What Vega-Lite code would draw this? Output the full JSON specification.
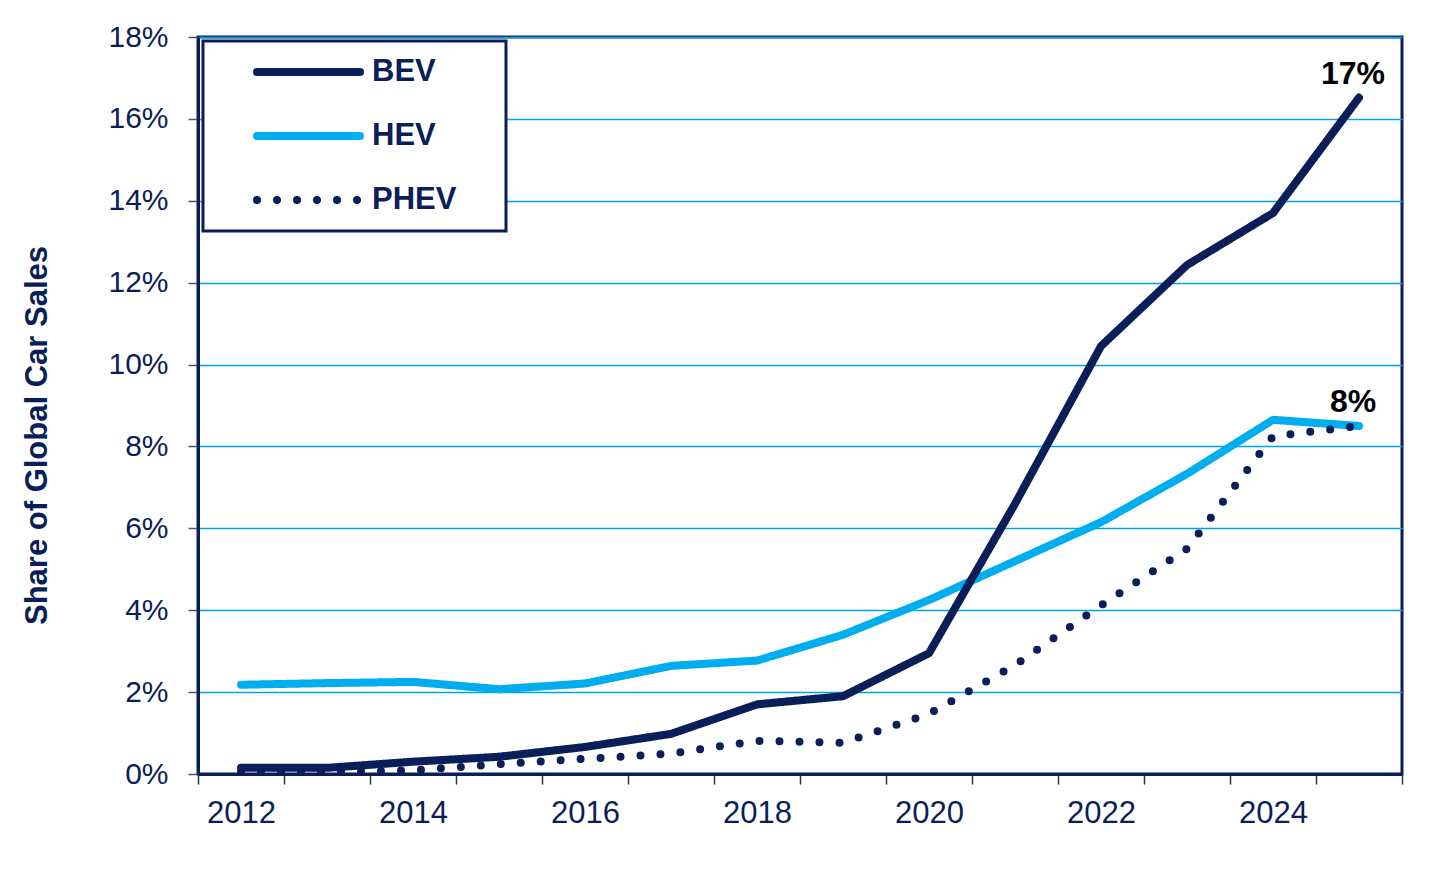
{
  "$schema": "https://vega.github.io/schema/vega-lite/v6.json",
  "description": "Share of global car sales by powertrain",
  "autosize": {"type": "none"},
  "padding": {"left": 198, "top": 37, "right": 54, "bottom": 100},
  "width": 1204,
  "height": 737,
  "datasets": {
    "shares": [
      {"series": "HEV", "year": 2012, "share": 2.18},
      {"series": "HEV", "year": 2013, "share": 2.22},
      {"series": "HEV", "year": 2014, "share": 2.25},
      {"series": "HEV", "year": 2015, "share": 2.07},
      {"series": "HEV", "year": 2016, "share": 2.21},
      {"series": "HEV", "year": 2017, "share": 2.64},
      {"series": "HEV", "year": 2018, "share": 2.77},
      {"series": "HEV", "year": 2019, "share": 3.4},
      {"series": "HEV", "year": 2020, "share": 4.25},
      {"series": "HEV", "year": 2021, "share": 5.2},
      {"series": "HEV", "year": 2022, "share": 6.15},
      {"series": "HEV", "year": 2023, "share": 7.33},
      {"series": "HEV", "year": 2024, "share": 8.65},
      {"series": "HEV", "year": 2025, "share": 8.5},
      {"series": "PHEV", "year": 2012, "share": 0.05},
      {"series": "PHEV", "year": 2013, "share": 0.05},
      {"series": "PHEV", "year": 2014, "share": 0.09},
      {"series": "PHEV", "year": 2015, "share": 0.24},
      {"series": "PHEV", "year": 2016, "share": 0.37},
      {"series": "PHEV", "year": 2017, "share": 0.5},
      {"series": "PHEV", "year": 2018, "share": 0.81},
      {"series": "PHEV", "year": 2019, "share": 0.76},
      {"series": "PHEV", "year": 2020, "share": 1.47},
      {"series": "PHEV", "year": 2021, "share": 2.66},
      {"series": "PHEV", "year": 2022, "share": 4.12},
      {"series": "PHEV", "year": 2023, "share": 5.5},
      {"series": "PHEV", "year": 2024, "share": 8.25},
      {"series": "PHEV", "year": 2025, "share": 8.5},
      {"series": "BEV", "year": 2012, "share": 0.15},
      {"series": "BEV", "year": 2013, "share": 0.15},
      {"series": "BEV", "year": 2014, "share": 0.3},
      {"series": "BEV", "year": 2015, "share": 0.42},
      {"series": "BEV", "year": 2016, "share": 0.66},
      {"series": "BEV", "year": 2017, "share": 0.98},
      {"series": "BEV", "year": 2018, "share": 1.7},
      {"series": "BEV", "year": 2019, "share": 1.9},
      {"series": "BEV", "year": 2020, "share": 2.95},
      {"series": "BEV", "year": 2021, "share": 6.6},
      {"series": "BEV", "year": 2022, "share": 10.45},
      {"series": "BEV", "year": 2023, "share": 12.43},
      {"series": "BEV", "year": 2024, "share": 13.7},
      {"series": "BEV", "year": 2025, "share": 16.52}
    ],
    "ends": [
      {"series": "BEV", "year": 2025, "share": 16.52, "label": "17%"},
      {"series": "HEV", "year": 2025, "share": 8.5, "label": "8%"}
    ]
  },
  "layer": [
    {
      "data": {"name": "shares"},
      "mark": {"type": "line", "strokeWidth": 8, "strokeCap": "round", "strokeJoin": "round"},
      "encoding": {
        "x": {
          "field": "year",
          "type": "quantitative",
          "scale": {"domain": [2011.5, 2025.5], "nice": false, "zero": false},
          "axis": {
            "title": null,
            "values": [2011.5, 2012, 2012.5, 2013.5, 2014, 2014.5, 2015.5, 2016, 2016.5, 2017.5, 2018, 2018.5, 2019.5, 2020, 2020.5, 2021.5, 2022, 2022.5, 2023.5, 2024, 2024.5, 2025.5],
            "labelExpr": "datum.value % 1 === 0 ? '' + datum.value : ''",
            "labelOverlap": false,
            "labelFlush": false,
            "labelFontSize": 31,
            "labelColor": "#0a1e5a",
            "labelPadding": 14,
            "labelBaseline": "top",
            "tickSize": 10,
            "tickWidth": 1.5,
            "tickColor": "#333333",
            "tickOpacity": {"condition": {"test": "datum.value % 1 === 0", "value": 0}, "value": 1},
            "grid": false,
            "domainColor": "#0a1e5a",
            "domainWidth": 3
          }
        },
        "y": {
          "field": "share",
          "type": "quantitative",
          "scale": {"domain": [0, 18], "nice": false},
          "axis": {
            "title": "Share of Global Car Sales",
            "values": [0, 2, 4, 6, 8, 10, 12, 14, 16, 18],
            "labelExpr": "datum.value + '%'",
            "labelFontSize": 30,
            "labelColor": "#0a1e5a",
            "labelPadding": 20,
            "tickSize": 10,
            "tickWidth": 1.5,
            "tickColor": "#555555",
            "grid": true,
            "gridColor": "#00a3e8",
            "gridWidth": 1.5,
            "domainColor": "#0a1e5a",
            "domainWidth": 3,
            "titleFontSize": 31,
            "titleFontWeight": "bold",
            "titleColor": "#0a1e5a",
            "titleAngle": -90,
            "titleAlign": "center",
            "titleBaseline": "middle",
            "titleX": -161,
            "titleY": 398
          }
        },
        "color": {
          "field": "series",
          "type": "nominal",
          "scale": {"domain": ["BEV", "HEV", "PHEV"], "range": ["#0a1e5a", "#00aeef", "#0a1e5a"]},
          "legend": {
            "title": null,
            "orient": "none",
            "legendX": 5,
            "legendY": 4,
            "encode": {
              "symbols": {"update": {"strokeCap": {"value": "round"}}},
              "entries": {"update": {"width": {"value": 273}}}
            }
          }
        },
        "strokeDash": {
          "field": "series",
          "type": "nominal",
          "scale": {"domain": ["BEV", "HEV", "PHEV"], "range": [[1, 0], [1, 0], [0, 20]]},
          "legend": {
            "title": null,
            "orient": "none",
            "legendX": 5,
            "legendY": 4,
            "encode": {
              "symbols": {"update": {"strokeCap": {"value": "round"}}},
              "entries": {"update": {"width": {"value": 273}}}
            }
          }
        }
      }
    },
    {
      "data": {"name": "ends"},
      "mark": {"type": "text", "fontSize": 32, "fontWeight": "bold", "color": "#000000", "align": "center", "baseline": "alphabetic", "dx": -6, "dy": -14},
      "encoding": {
        "x": {"field": "year", "type": "quantitative"},
        "y": {"field": "share", "type": "quantitative"},
        "text": {"field": "label"}
      }
    }
  ],
  "config": {
    "font": "Liberation Sans",
    "background": "#ffffff",
    "view": {"stroke": "#0a1e5a", "strokeWidth": 3},
    "legend": {
      "padding": 15,
      "strokeColor": "#0a1e5a",
      "strokeWidth": 3,
      "fillColor": "#ffffff",
      "symbolType": "stroke",
      "symbolSize": 10609,
      "symbolStrokeWidth": 8,
      "symbolOffset": 35,
      "clipHeight": 32,
      "rowPadding": 32,
      "labelOffset": 8,
      "labelFont": "Liberation Sans",
      "labelFontSize": 31,
      "labelFontWeight": "bold",
      "labelColor": "#0a1e5a"
    }
  }
}
